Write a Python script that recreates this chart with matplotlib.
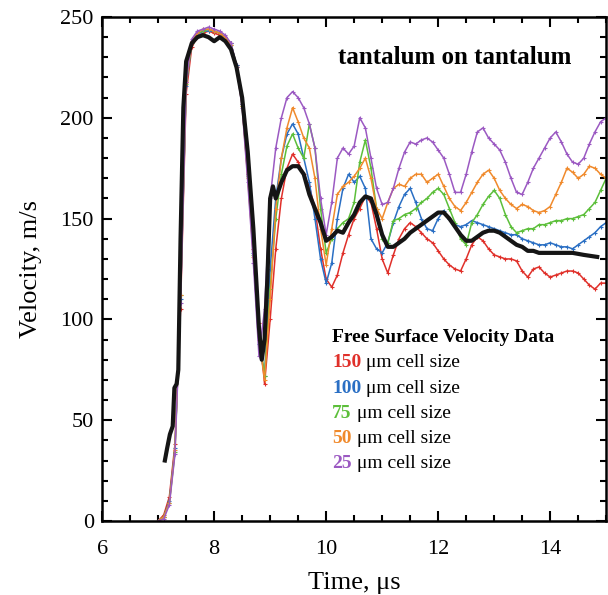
import numpy as np
import matplotlib
matplotlib.use('Agg')
import matplotlib.pyplot as plt
from matplotlib.ticker import MultipleLocator

plt.rcParams['font.family'] = ['Liberation Serif', 'DejaVu Serif']

# time grid for the simulated curves (us)
t_sim = np.round(np.arange(7.0, 15.01, 0.1), 2)

# velocity, m/s
v_150 = [0, 3, 12, 38, 105, 212, 235, 240, 242, 243, 242, 241, 240, 237, 226, 207, 172, 135, 98, 68,
         100, 135, 160, 175, 182, 178, 172, 166, 155, 135, 120, 116, 122, 133, 142, 150, 155, 161, 158, 145,
         130, 123, 132, 140, 145, 148, 146, 143, 140, 138, 134, 130, 127, 125, 124, 130, 137, 141, 139, 135,
         132, 131, 130, 130, 129, 124, 121, 125, 126, 123, 121, 122, 123, 124, 124, 123, 120, 117, 115, 118, 118]
v_100 = [0, 2, 10, 36, 110, 216, 237, 241, 243, 243, 243, 242, 240, 237, 226, 207, 172, 133, 88, 72,
         125, 160, 180, 192, 197, 192, 180, 168, 150, 130, 118, 128, 150, 165, 172, 168, 171, 165, 140, 135,
         133, 138, 148, 156, 162, 165, 158, 150, 145, 144, 150, 154, 150, 147, 146, 147, 149, 148, 147, 146,
         145, 144, 143, 142, 142, 140, 139, 138, 137, 137, 138, 137, 136, 136, 135, 137, 139, 141, 143, 146, 148]
v_75 = [0, 2, 9, 34, 112, 217, 237, 242, 243, 244, 243, 242, 240, 236, 225, 206, 171, 132, 92, 72,
        115, 150, 172, 186, 192, 185, 180, 197, 185, 155, 133, 140, 145, 148, 150, 158, 178, 189, 175, 155,
        140, 138, 149, 150, 152, 153, 155, 158, 160, 163, 165, 162, 155, 148, 140, 137, 148, 152, 157, 161,
        164, 160, 152, 146, 143, 144, 145, 145, 147, 147, 148, 149, 149, 150, 150, 151, 152, 155, 158, 164, 170]
v_50 = [0, 2, 9, 35, 112, 218, 238, 242, 244, 244, 243, 242, 240, 236, 225, 206, 170, 131, 90, 70,
        110, 155, 180, 195, 205, 198, 190, 185, 170, 145, 127, 145, 162, 166, 168, 171, 175, 180, 170, 155,
        150, 158, 165, 167, 166, 170, 172, 172, 168, 170, 172, 166, 160, 156, 154, 158, 163, 168, 172, 174,
        170, 164, 160, 157, 155, 157, 156, 154, 153, 154, 156, 162, 168, 175, 173, 170, 172, 176, 175, 172, 170]
v_25 = [0, 1, 8, 33, 108, 218, 239, 243, 244, 245, 244, 243, 241, 237, 225, 205, 168, 128, 82, 105,
        160, 185, 200, 210, 213, 210, 205, 197, 185, 160, 142, 158, 180, 185, 182, 186, 200, 195, 180, 165,
        157, 158, 165, 175, 183, 188, 187, 189, 190, 188, 184, 180, 172, 163, 163, 172, 183, 193, 195, 190,
        187, 184, 178, 170, 163, 162, 168, 175, 180, 185, 190, 193, 188, 182, 178, 177, 180, 187, 193, 198, 200]

# measured free surface velocity (black)
t_exp = [7.12, 7.16, 7.21, 7.26, 7.29, 7.33, 7.36, 7.40, 7.45, 7.50, 7.60, 7.70, 7.80, 7.90, 8.00,
         8.10, 8.20, 8.30, 8.40, 8.50, 8.60, 8.70, 8.80, 8.85, 8.90, 8.95, 9.00, 9.05, 9.10, 9.20,
         9.30, 9.40, 9.50, 9.60, 9.70, 9.80, 9.90, 10.00, 10.10, 10.20, 10.30, 10.40, 10.50, 10.60,
         10.70, 10.80, 10.90, 11.00, 11.10, 11.20, 11.30, 11.40, 11.50, 11.60, 11.70, 11.80, 11.90,
         12.00, 12.10, 12.20, 12.30, 12.40, 12.50, 12.60, 12.70, 12.80, 12.90, 13.00, 13.10, 13.20,
         13.30, 13.40, 13.50, 13.60, 13.70, 13.80, 13.90, 14.00, 14.20, 14.40, 14.60, 14.84]
v_exp = [30, 36, 43, 47, 66, 68, 75, 140, 205, 228, 237, 240, 241, 240, 238,
         240, 238, 234, 225, 210, 183, 145, 96, 80, 90, 120, 160, 166, 160, 168,
         174, 176, 176, 172, 162, 155, 148, 139, 141, 144, 143, 148, 152, 158,
         161, 160, 152, 142, 136, 136, 138, 140, 143, 145, 147, 149, 151,
         153, 153, 150, 146, 142, 139, 139, 141, 143, 144, 144, 143, 141,
         139, 137, 136, 134, 134, 133, 133, 133, 133, 133, 132, 131]

cell_sizes = ['150', '100', '75', '50', '25']
colors = ['#e0302a', '#2a6fc4', '#5cbf3a', '#f08a2c', '#9b59c2']
series = [v_150, v_100, v_75, v_50, v_25]

fig = plt.figure(figsize=(6.08, 5.95), dpi=100)
ax = fig.add_axes([0.168, 0.1244, 0.829, 0.847])

for v, c in zip(series, colors):
    ax.plot(t_sim, v, color=c, lw=1.1, marker='+', ms=3, mew=0.8)
ax.plot(t_exp, v_exp, color='#151515', lw=3)

ax.set_xlim(6, 15)
ax.set_ylim(0, 250)
ax.xaxis.set_major_locator(MultipleLocator(2))
ax.xaxis.set_minor_locator(MultipleLocator(0.5))
ax.yaxis.set_major_locator(MultipleLocator(50))
ax.yaxis.set_minor_locator(MultipleLocator(10))
ax.tick_params(which='both', direction='in', top=True, right=True, labelsize=16, width=1.5)
ax.tick_params(axis='x', pad=14)
ax.tick_params(axis='y', pad=6)
ax.tick_params(which='major', length=7)
ax.tick_params(which='minor', length=4)
for s in ax.spines.values():
    s.set_linewidth(1.8)

ax.set_xlabel('Time, μs', fontsize=19, labelpad=9)
ax.set_ylabel('Velocity, m/s', fontsize=19, labelpad=13)

ax.text(14.375, 229.7, 'tantalum on tantalum', fontsize=18, fontweight='bold', ha='right', va='center')

ax.text(10.107, 90.8, 'Free Surface Velocity Data', fontsize=14, fontweight='bold', va='center')
ys = [78.4, 65.5, 53.1, 40.7, 28.3]
for size, c, y in zip(cell_sizes, colors, ys):
    num = ax.text(10.107, y, size, fontsize=14, fontweight='bold', color=c, va='center')
    ax.annotate(' μm cell size', xy=(1, 0.5), xycoords=num, va='center', fontsize=14)

fig.savefig('out.png', dpi=100)
